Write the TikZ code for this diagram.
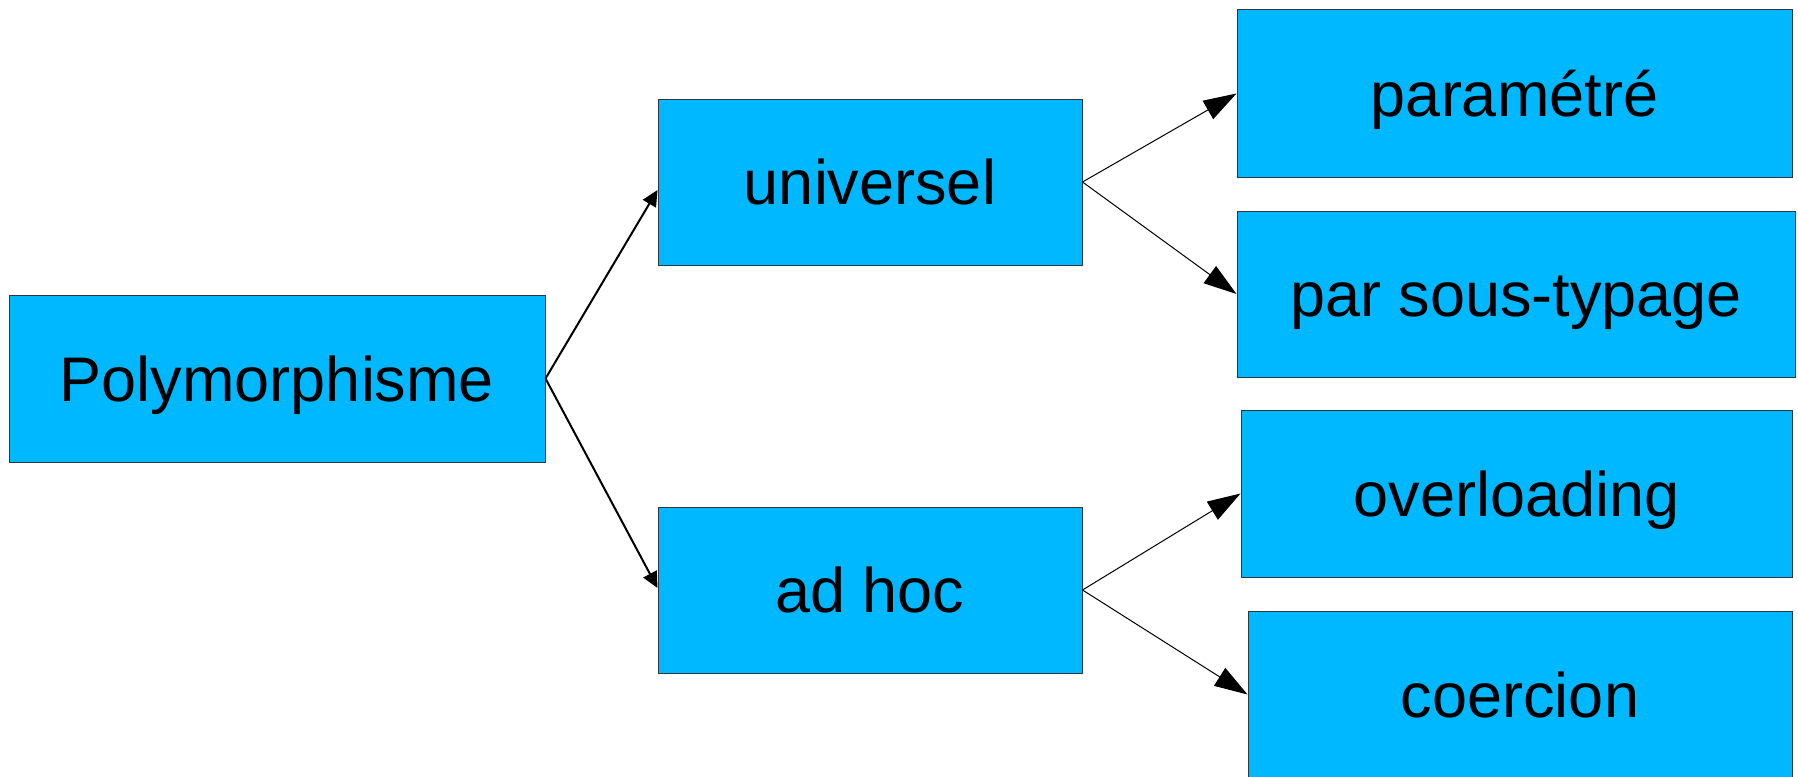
\documentclass[tikz,border=0pt]{standalone}
\usepackage{fontspec}
\setmainfont{Liberation Sans}
\usetikzlibrary{arrows.meta}
\definecolor{boxblue}{RGB}{0,184,255}
\definecolor{boxline}{RGB}{45,55,65}
\begin{document}
\begin{tikzpicture}[x=1pt,y=-1pt,
  box/.style={draw=boxline, line width=1pt, fill=boxblue, inner sep=0pt,
    text height=45pt, text depth=0pt, font=\fontsize{63}{75}\selectfont, anchor=center},
  linkone/.style={line width=2pt, -{Triangle[length=16pt,width=15pt]}},
  linktwo/.style={line width=1pt, -{Triangle[length=33pt,width=21pt]}}]
\useasboundingbox (0,0) rectangle (1798,776);
\node[box, minimum width=536pt, minimum height=167pt] (poly) at (277,378.5) {Polymorphisme};
\node[box, minimum width=424pt, minimum height=166pt] (uni) at (870,182) {universel};
\node[box, minimum width=424pt, minimum height=166pt] (adhoc) at (870,590) {ad hoc};
\node[box, minimum width=555pt, minimum height=167pt] (param) at (1514.5,93.5) {paramétré};
\node[box, minimum width=558pt, minimum height=166pt] (sous) at (1516,294) {par sous-typage};
\node[box, minimum width=551pt, minimum height=167pt] (over) at (1516.5,493.5) {overloading};
\node[box, minimum width=544pt, minimum height=167pt] (coer) at (1520,694.5) {coercion};
\draw[linkone] (poly.east) -- ([yshift=-8pt]uni.west);
\draw[linkone] (poly.east) -- ([yshift=2pt]adhoc.west);
\draw[linktwo] (uni.east) -- (param.west);
\draw[linktwo] (uni.east) -- (sous.west);
\draw[linktwo] (adhoc.east) -- (over.west);
\draw[linktwo] (adhoc.east) -- (coer.west);
\end{tikzpicture}
\end{document}
